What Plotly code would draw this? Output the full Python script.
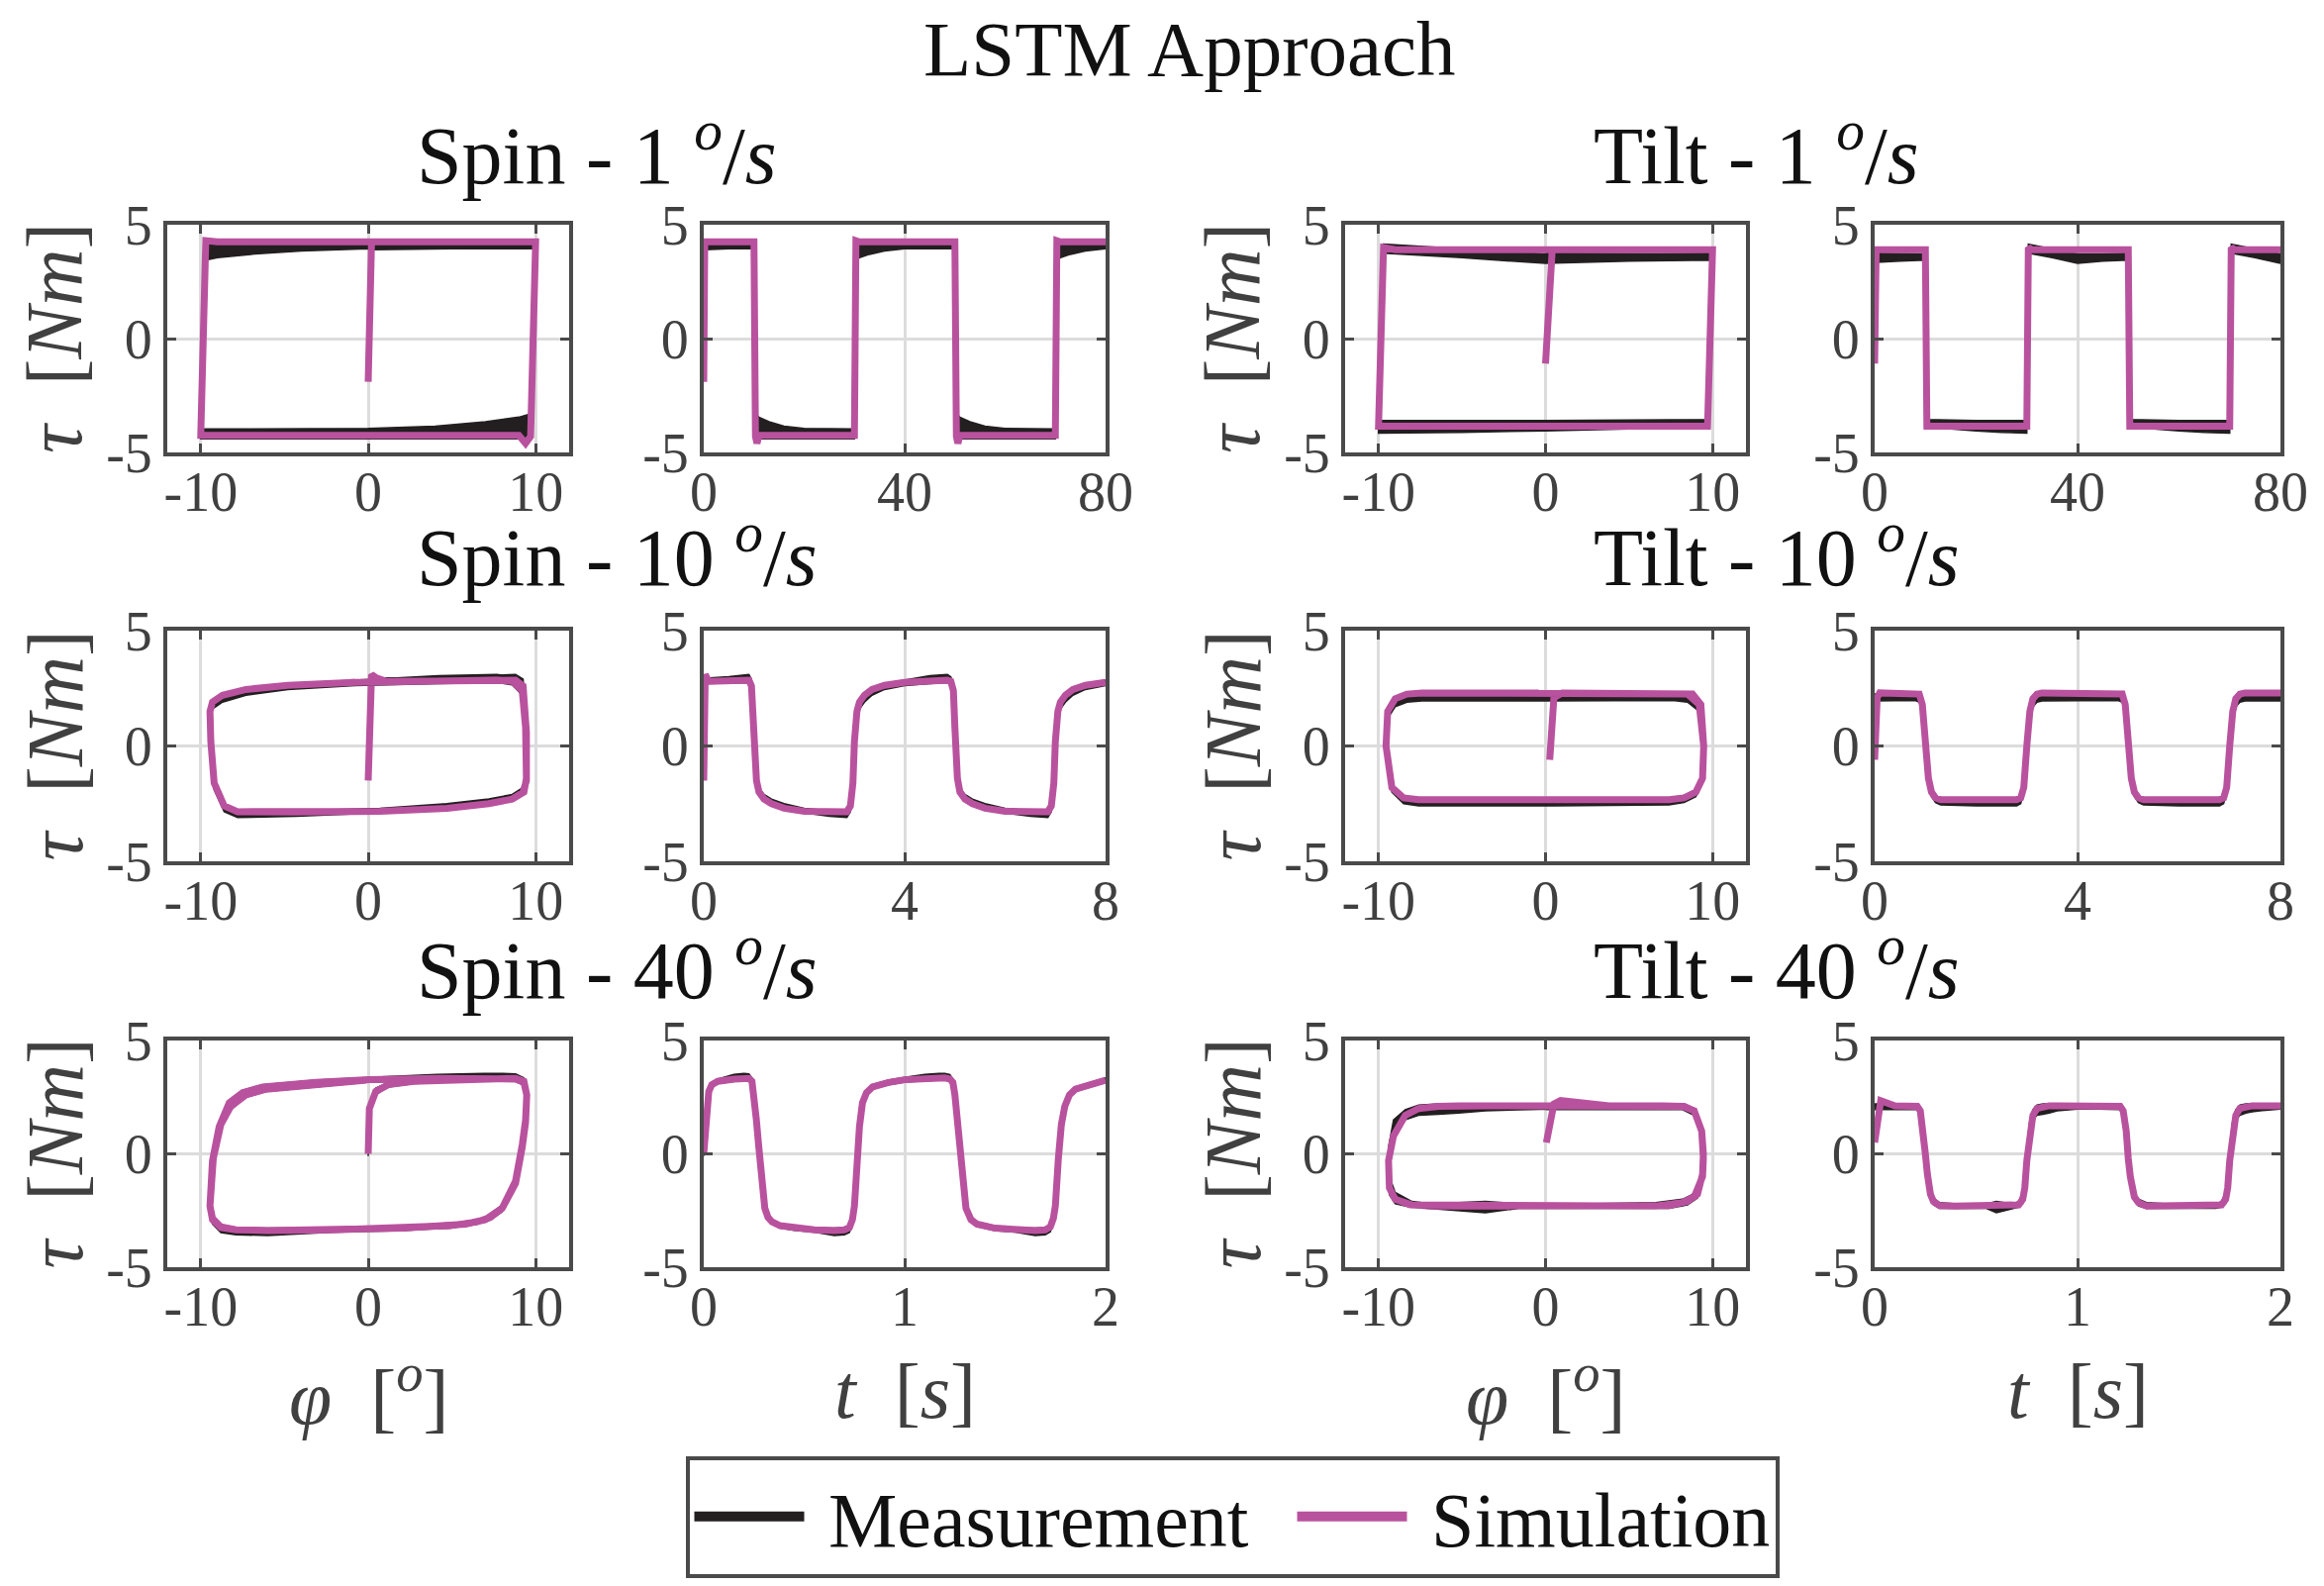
import plotly.graph_objects as go

W, H = 2348, 1602
MEAS_COLOR = '#231F20'
SIM_COLOR = '#B9529E'
AX_COLOR = '#4A4A4A'
GRID_COLOR = '#DCDCDC'
TXT_COLOR = '#404040'
FONT = 'Liberation Serif'

# ---------------- Spin 1 deg/s ----------------
spin1_t = [0, 0.2, 5, 9.9, 10.0, 10.3, 10.6, 11, 13, 16, 20, 25, 29.9, 30.0, 30.3, 31, 33, 36, 40, 45,
           49.9, 50.0, 50.3, 50.6, 51, 53, 56, 60, 65, 69.9, 70.0, 70.3, 71, 73, 76, 80]
spin1_phi = [0, 0.2, 5, 9.9, 10.0, 9.7, 9.4, 9.0, 7, 4, 0, -5, -9.9, -10.0, -9.7, -9, -7, -4, 0, 5,
             9.9, 10.0, 9.7, 9.4, 9.0, 7, 4, 0, -5, -9.9, -10.0, -9.7, -9, -7, -4, 0]
spin1_sim = [-1.9, 4.25, 4.25, 4.25, 4.25, -4.3, -4.6, -4.25, -4.25, -4.25, -4.25, -4.25, -4.25, -4.25,
             4.3, 4.25, 4.25, 4.25, 4.25, 4.25, 4.25, 4.25, -4.3, -4.6, -4.25, -4.25, -4.25, -4.25, -4.25,
             -4.25, -4.25, 4.3, 4.25, 4.25, 4.25, 4.25]
spin1_mlo = [3.9, 3.9, 3.95, 3.95, 3.95, -4.4, -4.45, -4.4, -4.4, -4.4, -4.4, -4.4, -4.4, -4.4,
             3.45, 3.55, 3.7, 3.85, 3.95, 3.95, 3.95, 3.95, -4.4, -4.45, -4.4, -4.4, -4.4, -4.4, -4.4,
             -4.4, -4.4, 3.45, 3.55, 3.7, 3.85, 3.95]
spin1_mhi = [4.1, 4.1, 4.1, 4.1, 4.1, -3.3, -3.35, -3.45, -3.65, -3.85, -3.95, -3.97, -3.97, -3.97,
             4.15, 4.15, 4.12, 4.1, 4.1, 4.1, 4.1, 4.1, -3.3, -3.35, -3.45, -3.65, -3.85, -3.95, -3.97,
             -3.97, -3.97, 4.15, 4.15, 4.12, 4.1, 4.1]

# ---------------- Spin 10 deg/s ----------------
spin10_t = [0, 0.03, 0.06, 0.12, 0.5, 0.9, 0.95, 1.0, 1.05, 1.1, 1.2, 1.35, 1.6, 2.0, 2.5, 2.85, 2.92,
            2.97, 3.0, 3.05, 3.1, 3.2, 3.35, 3.6, 4.0, 4.5, 4.85, 4.92, 4.97, 5.0, 5.05, 5.1, 5.2, 5.35,
            5.6, 6.0, 6.5, 6.85, 6.92, 6.97, 7.0, 7.05, 7.1, 7.2, 7.35, 7.6, 8.0]
spin10_phi = [0.0, 0.2, 0.5, 1.1, 4.9, 8.8, 9.25, 9.45, 9.45, 9.25, 8.6, 7.2, 4.7, 0.7, -4.3, -7.8, -8.6,
              -9.2, -9.4, -9.45, -9.3, -8.7, -7.3, -4.8, -0.8, 4.2, 7.7, 8.6, 9.2, 9.4, 9.45, 9.3, 8.6,
              7.2, 4.7, 0.7, -4.3, -7.8, -8.6, -9.2, -9.4, -9.45, -9.3, -8.7, -7.3, -4.8, -0.8]
spin10_sim = [-1.5, 3.1, 2.95, 2.8, 2.82, 2.85, 2.6, 0.6, -1.5, -2.0, -2.3, -2.5, -2.7, -2.83, -2.87,
              -2.85, -2.6, -1.6, 0.2, 1.5, 1.9, 2.2, 2.45, 2.63, 2.76, 2.83, 2.85, 2.8, 2.4, 0.8, -1.4,
              -2.0, -2.3, -2.5, -2.7, -2.83, -2.87, -2.85, -2.6, -1.6, 0.2, 1.5, 1.9, 2.2, 2.45, 2.63, 2.76]
spin10_mlo = [2.7, 2.7, 2.7, 2.7, 2.72, 2.75, 2.5, 0.4, -1.6, -2.1, -2.35, -2.55, -2.75, -2.9, -3.05,
              -3.1, -2.85, -1.9, 0.0, 1.2, 1.6, 1.9, 2.2, 2.45, 2.62, 2.7, 2.75, 2.65, 2.2, 0.6, -1.6,
              -2.1, -2.35, -2.55, -2.75, -2.9, -3.05, -3.1, -2.85, -1.9, 0.0, 1.2, 1.6, 1.9, 2.2, 2.45, 2.62]
spin10_mhi = [2.95, 2.95, 2.95, 2.95, 3.0, 3.1, 2.9, 0.9, -1.2, -1.8, -2.1, -2.3, -2.5, -2.7, -2.8,
              -2.8, -2.5, -1.4, 0.5, 1.6, 1.95, 2.25, 2.5, 2.7, 2.85, 3.05, 3.1, 3.0, 2.6, 1.1, -1.2,
              -1.8, -2.1, -2.3, -2.5, -2.7, -2.8, -2.8, -2.5, -1.4, 0.5, 1.6, 1.95, 2.25, 2.5, 2.7, 2.85]

# ---------------- Spin 40 deg/s ----------------
spin40_t = [0, 0.012, 0.025, 0.04, 0.07, 0.15, 0.2, 0.225, 0.24, 0.25, 0.262, 0.273, 0.288, 0.304, 0.32,
            0.34, 0.38, 0.45, 0.55, 0.65, 0.7, 0.725, 0.74, 0.75, 0.76, 0.775, 0.79, 0.81, 0.84, 0.92,
            1.0, 1.1, 1.17, 1.2, 1.225, 1.24, 1.25, 1.262, 1.275, 1.29, 1.305, 1.33, 1.36, 1.45, 1.55,
            1.65, 1.7, 1.725, 1.74, 1.75, 1.765, 1.78, 1.797, 1.82, 1.85, 1.92, 2.0]
spin40_phi = [0.0, 0.07, 0.45, 1.2, 2.7, 5.9, 7.9, 8.8, 9.3, 9.47, 9.4, 9.2, 8.8, 8.0, 7.3,
              6.5, 4.9, 2.0, -2.0, -6.0, -7.9, -8.8, -9.3, -9.45, -9.3, -8.9, -8.3, -7.5, -6.3, -3.1,
              0.1, 4.1, 6.9, 7.9, 8.8, 9.3, 9.47, 9.4, 9.2, 8.8, 8.0, 7.0, 5.8, 2.1, -2.0,
              -6.0, -7.9, -8.8, -9.3, -9.45, -9.25, -8.8, -8.2, -7.3, -6.1, -3.3, -0.1]
spin40_sim = [0.0, 2.0, 2.75, 3.05, 3.2, 3.3, 3.35, 3.33, 3.2, 2.6, 1.5, 0.4, -1.2, -2.4, -2.8,
              -3.0, -3.17, -3.27, -3.35, -3.38, -3.35, -3.25, -2.9, -2.3, -0.3, 1.2, 2.25, 2.7, 2.95, 3.15,
              3.27, 3.33, 3.35, 3.35, 3.3, 3.15, 2.6, 1.4, 0.3, -1.3, -2.4, -2.9, -3.1, -3.28, -3.35,
              -3.38, -3.35, -3.22, -2.85, -2.3, -0.2, 1.3, 2.1, 2.6, 2.85, 3.05, 3.25]
spin40_mlo = [-0.1, 1.8, 2.6, 2.95, 3.1, 3.2, 3.25, 3.23, 3.05, 2.4, 1.3, 0.2, -1.4, -2.55, -2.92,
              -3.1, -3.27, -3.37, -3.45, -3.6, -3.57, -3.47, -3.1, -2.5, -0.5, 1.0, 2.1, 2.6, 2.85, 3.05,
              3.17, 3.23, 3.25, 3.25, 3.2, 3.02, 2.4, 1.2, 0.1, -1.5, -2.55, -3.0, -3.2, -3.38, -3.45,
              -3.6, -3.57, -3.44, -3.05, -2.5, -0.4, 1.1, 1.95, 2.5, 2.75, 2.95, 3.15]
spin40_mhi = [0.1, 2.2, 2.9, 3.15, 3.3, 3.5, 3.55, 3.53, 3.35, 2.8, 1.7, 0.6, -1.0, -2.25, -2.7,
              -2.9, -3.07, -3.17, -3.25, -3.28, -3.25, -3.15, -2.75, -2.1, -0.1, 1.4, 2.35, 2.8, 3.05, 3.25,
              3.37, 3.5, 3.55, 3.55, 3.5, 3.3, 2.8, 1.6, 0.5, -1.1, -2.25, -2.8, -3.0, -3.18, -3.25,
              -3.28, -3.25, -3.12, -2.7, -2.1, 0.0, 1.5, 2.25, 2.7, 2.95, 3.15, 3.35]

# ---------------- Tilt 1 deg/s ----------------
tilt1_t = [0, 0.3, 5, 9.9, 10.0, 10.3, 11, 15, 20, 25, 29.9, 30.0, 30.3, 31, 35, 40, 45, 49.9, 50.0,
           50.3, 51, 55, 60, 65, 69.9, 70.0, 70.3, 71, 75, 80]
tilt1_phi = [0, 0.4, 5, 9.9, 10.0, 9.7, 9.0, 5, 0, -5, -9.9, -10.0, -9.7, -9, -5, 0, 5, 9.9, 10.0,
             9.7, 9, 5, 0, -5, -9.9, -10.0, -9.7, -9, -5, 0]
tilt1_sim = [-1.1, 3.9, 3.9, 3.9, 3.9, -3.85, -3.85, -3.85, -3.85, -3.85, -3.85, -3.85, 4.0, 3.9, 3.9,
             3.9, 3.9, 3.9, 3.9, -3.85, -3.85, -3.85, -3.85, -3.85, -3.85, -3.85, 4.0, 3.9, 3.9, 3.9]
tilt1_mlo = [3.35, 3.35, 3.4, 3.45, 3.45, -3.95, -3.95, -3.97, -4.05, -4.12, -4.15, -4.15, 3.75, 3.72,
             3.55, 3.3, 3.4, 3.45, 3.45, -3.95, -3.95, -3.97, -4.05, -4.12, -4.15, -4.15, 3.75, 3.72,
             3.55, 3.3]
tilt1_mhi = [3.75, 3.75, 3.72, 3.72, 3.72, -3.55, -3.55, -3.58, -3.6, -3.6, -3.6, -3.6, 4.15, 4.12,
             3.95, 3.72, 3.72, 3.75, 3.75, -3.55, -3.55, -3.58, -3.6, -3.6, -3.6, -3.6, 4.15, 4.12,
             3.95, 3.72]

# ---------------- Tilt 10 deg/s ----------------
tilt10_t = [0, 0.05, 0.1, 0.5, 0.8, 0.88, 0.94, 1.0, 1.06, 1.12, 1.2, 1.3, 2.0, 2.7, 2.8, 2.88, 2.94,
            3.0, 3.06, 3.12, 3.2, 3.3, 4.0, 4.7, 4.8, 4.88, 4.94, 5.0, 5.06, 5.12, 5.2, 5.3, 6.0, 6.7,
            6.8, 6.88, 6.94, 7.0, 7.06, 7.12, 7.2, 7.3, 8.0]
tilt10_phi = [0.25, 0.5, 1.0, 5.0, 8.0, 8.8, 9.3, 9.47, 9.4, 9.0, 8.3, 7.4, 0.5, -6.5, -7.6, -8.5, -9.2,
              -9.55, -9.45, -9.0, -8.3, -7.4, -0.4, 6.5, 7.6, 8.5, 9.2, 9.47, 9.4, 9.0, 8.3, 7.4, 0.5,
              -6.5, -7.6, -8.5, -9.2, -9.55, -9.45, -9.0, -8.3, -7.4, -0.4]
tilt10_sim = [-0.6, 2.1, 2.3, 2.3, 2.3, 2.25, 1.8, 0.0, -1.4, -2.0, -2.25, -2.33, -2.33, -2.33, -2.33,
              -2.25, -1.8, 0.0, 1.5, 2.05, 2.25, 2.3, 2.3, 2.3, 2.3, 2.25, 1.8, 0.0, -1.4, -2.0, -2.25,
              -2.33, -2.33, -2.33, -2.33, -2.25, -1.8, 0.0, 1.5, 2.05, 2.25, 2.3, 2.3]
tilt10_mlo = [1.95, 1.95, 1.95, 1.97, 1.97, 1.9, 1.5, -0.2, -1.6, -2.2, -2.45, -2.55, -2.6, -2.6, -2.6,
              -2.5, -2.0, -0.2, 1.2, 1.7, 1.9, 1.95, 1.97, 1.97, 1.97, 1.9, 1.5, -0.2, -1.6, -2.2, -2.45,
              -2.55, -2.6, -2.6, -2.6, -2.5, -2.0, -0.2, 1.2, 1.7, 1.9, 1.95, 1.95]
tilt10_mhi = [2.25, 2.25, 2.25, 2.28, 2.28, 2.25, 1.85, 0.1, -1.3, -1.9, -2.15, -2.25, -2.28, -2.28, -2.28,
              -2.2, -1.7, 0.1, 1.55, 2.05, 2.2, 2.25, 2.28, 2.28, 2.28, 2.25, 1.85, 0.1, -1.3, -1.9, -2.15,
              -2.25, -2.28, -2.28, -2.28, -2.2, -1.7, 0.1, 1.55, 2.05, 2.2, 2.25, 2.28]

# ---------------- Tilt 40 deg/s ----------------
tilt40_t = [0, 0.02, 0.03, 0.1, 0.18, 0.21, 0.225, 0.24, 0.25, 0.26, 0.275, 0.29, 0.32, 0.4, 0.55, 0.6,
            0.68, 0.71, 0.73, 0.74, 0.75, 0.765, 0.78, 0.8, 0.83, 0.86, 0.9, 1.0, 1.1, 1.18, 1.21, 1.225,
            1.24, 1.25, 1.26, 1.28, 1.3, 1.34, 1.45, 1.55, 1.6, 1.68, 1.71, 1.73, 1.74, 1.75, 1.765, 1.78,
            1.8, 1.83, 1.86, 1.9, 2.0]
tilt40_phi = [0.05, 0.5, 0.9, 3.8, 7.0, 8.2, 8.9, 9.35, 9.45, 9.4, 9.1, 8.5, 7.4, 4.3, -1.6, -3.6,
              -6.8, -8.0, -9.0, -9.35, -9.4, -9.1, -8.4, -7.6, -6.4, -5.2, -3.6, 0.3, 4.2, 7.2, 8.3, 8.9,
              9.35, 9.45, 9.4, 8.9, 8.2, 6.6, 2.2, -1.8, -3.8, -6.9, -8.1, -9.0, -9.35, -9.4, -9.1, -8.4,
              -7.6, -6.4, -5.2, -3.6, 0.3]
tilt40_sim = [0.5, 2.2, 2.35, 2.12, 2.12, 2.1, 1.9, 1.0, 0.0, -0.9, -1.78, -2.1, -2.28, -2.3, -2.3, -2.3,
              -2.3, -2.25, -2.0, -1.5, -0.3, 0.8, 1.7, 2.0, 2.1, 2.12, 2.12, 2.12, 2.12, 2.12, 2.1, 1.9,
              1.0, -0.2, -1.0, -1.9, -2.15, -2.3, -2.3, -2.3, -2.3, -2.3, -2.25, -2.0, -1.5, -0.3, 0.8, 1.7,
              2.0, 2.1, 2.12, 2.12, 2.12]
tilt40_mlo = [1.95, 1.95, 1.95, 1.98, 1.98, 1.95, 1.7, 0.8, -0.2, -1.1, -1.95, -2.25, -2.4, -2.4, -2.4, -2.6,
              -2.4, -2.35, -2.2, -1.8, -0.6, 0.6, 1.5, 1.7, 1.75, 1.8, 1.9, 1.98, 1.98, 1.98, 1.95, 1.7,
              0.8, -0.4, -1.2, -2.05, -2.3, -2.4, -2.4, -2.4, -2.4, -2.4, -2.35, -2.2, -1.8, -0.6, 0.6, 1.5,
              1.7, 1.8, 1.85, 1.9, 1.98]
tilt40_mhi = [2.2, 2.2, 2.2, 2.22, 2.22, 2.2, 2.0, 1.2, 0.2, -0.7, -1.6, -1.95, -2.15, -2.2, -2.2, -2.1,
              -2.2, -2.1, -1.7, -1.0, 0.3, 1.5, 1.95, 2.15, 2.2, 2.2, 2.22, 2.22, 2.22, 2.22, 2.2, 2.0,
              1.2, 0.0, -0.8, -1.75, -2.0, -2.15, -2.2, -2.2, -2.2, -2.2, -2.1, -1.7, -1.0, 0.3, 1.5, 1.95,
              2.15, 2.2, 2.2, 2.22, 2.22]

# tick labels
phi_ticks = [-10, 0, 10]
phi_ticktext = ['-10', '0', '10']
tau_ticks = [-5, 0, 5]
tau_ticktext = ['-5', '0', '5']
t_ticks_1 = [0, 40, 80]
t_ticks_10 = [0, 4, 8]
t_ticks_40 = [0, 1, 2]

panels = [
    dict(title='Spin', rate='1', row=0, side=0, t=spin1_t, phi=spin1_phi, sim=spin1_sim, lo=spin1_mlo, hi=spin1_mhi, tt=t_ticks_1),
    dict(title='Tilt', rate='1', row=0, side=1, t=tilt1_t, phi=tilt1_phi, sim=tilt1_sim, lo=tilt1_mlo, hi=tilt1_mhi, tt=t_ticks_1),
    dict(title='Spin', rate='10', row=1, side=0, t=spin10_t, phi=spin10_phi, sim=spin10_sim, lo=spin10_mlo, hi=spin10_mhi, tt=t_ticks_10),
    dict(title='Tilt', rate='10', row=1, side=1, t=tilt10_t, phi=tilt10_phi, sim=tilt10_sim, lo=tilt10_mlo, hi=tilt10_mhi, tt=t_ticks_10),
    dict(title='Spin', rate='40', row=2, side=0, t=spin40_t, phi=spin40_phi, sim=spin40_sim, lo=spin40_mlo, hi=spin40_mhi, tt=t_ticks_40),
    dict(title='Tilt', rate='40', row=2, side=1, t=tilt40_t, phi=tilt40_phi, sim=tilt40_sim, lo=tilt40_mlo, hi=tilt40_mhi, tt=t_ticks_40),
]

# layout geometry (pixels of the 2348x1602 canvas)
col_px = [(169, 575), (711, 1117), (1359, 1764), (1894, 2304)]
row_px = [(227, 457), (637, 870), (1051, 1280)]
title_left_px = [419, 1608]
title_y_px = [151, 558, 974]

def xdom(c):
    a, b = col_px[c]
    return [a / W, b / W]

def ydom(r):
    a, b = row_px[r]
    return [1 - b / H, 1 - a / H]

fig = go.Figure()
layout = {}
tickfont = dict(family=FONT, size=56, color=TXT_COLOR)

def axis_common():
    return dict(showgrid=True, gridcolor=GRID_COLOR, gridwidth=3, zeroline=False,
                showline=True, linecolor=AX_COLOR, linewidth=4, mirror='ticks',
                ticks='inside', ticklen=9, tickwidth=3, tickcolor=AX_COLOR,
                tickfont=tickfont, fixedrange=True, automargin=False)

for p in panels:
    for kind in ('phi', 't'):
        c = p['side'] * 2 + (0 if kind == 'phi' else 1)
        k = p['row'] * 4 + c + 1
        xs = p['phi'] if kind == 'phi' else p['t']
        xref = 'x' if k == 1 else f'x{k}'
        yref = 'y' if k == 1 else f'y{k}'
        fig.add_trace(go.Scatter(x=xs, y=p['lo'], xaxis=xref, yaxis=yref, mode='lines',
                                 line=dict(color=MEAS_COLOR, width=1.5), showlegend=False,
                                 hoverinfo='skip'))
        fig.add_trace(go.Scatter(x=xs, y=p['hi'], xaxis=xref, yaxis=yref, mode='lines',
                                 line=dict(color=MEAS_COLOR, width=1.5), fill='tonexty',
                                 fillcolor=MEAS_COLOR, showlegend=False, hoverinfo='skip'))
        fig.add_trace(go.Scatter(x=xs, y=p['sim'], xaxis=xref, yaxis=yref, mode='lines',
                                 line=dict(color=SIM_COLOR, width=7), showlegend=False,
                                 hoverinfo='skip'))
        xa = axis_common()
        xa.update(domain=xdom(c), anchor=yref, ticklabelstandoff=-12)
        if kind == 'phi':
            xa.update(range=[-12, 12], tickvals=phi_ticks, ticktext=phi_ticktext)
        else:
            tt = p['tt']
            xa.update(range=[tt[0], tt[-1]], tickvals=tt, ticktext=[str(v) for v in tt])
        ya = axis_common()
        ya.update(domain=ydom(p['row']), anchor=xref, range=[-5, 5], tickvals=tau_ticks,
                  ticktext=tau_ticktext)
        layout['xaxis' if k == 1 else f'xaxis{k}'] = xa
        layout['yaxis' if k == 1 else f'yaxis{k}'] = ya

# legend entries
fig.add_trace(go.Scatter(x=[None], y=[None], mode='lines', name='\u00a0Measurement\u00a0\u00a0',
                         line=dict(color=MEAS_COLOR, width=10)))
fig.add_trace(go.Scatter(x=[None], y=[None], mode='lines', name='\u00a0Simulation',
                         line=dict(color=SIM_COLOR, width=10)))

annotations = []
annotations.append(dict(text='LSTM Approach', x=1202 / W, y=1 - 50 / H, xref='paper', yref='paper',
                        xanchor='center', yanchor='middle', showarrow=False,
                        font=dict(family=FONT, size=79, color='#111111')))
for p in panels:
    annotations.append(dict(text=f"{p['title']} - {p['rate']} <sup><i>o</i></sup>/<i>s</i>",
                            x=title_left_px[p['side']] / W, y=1 - title_y_px[p['row']] / H,
                            xref='paper', yref='paper', xanchor='left', yanchor='middle',
                            showarrow=False, font=dict(family=FONT, size=82, color='#111111')))
# y-axis labels
for c in (0, 2):
    for r in range(3):
        yc = (row_px[r][0] + row_px[r][1]) / 2
        annotations.append(dict(text='<i>τ</i>  [<i>Nm</i>]', x=(col_px[c][0] - 114) / W,
                                y=1 - yc / H, xref='paper', yref='paper', xanchor='center',
                                yanchor='middle', textangle=-90, showarrow=False,
                                font=dict(family=FONT, size=80, color=TXT_COLOR)))
# x-axis labels
for c in range(4):
    xc = (col_px[c][0] + col_px[c][1]) / 2
    txt = '<i>φ</i>  [<sup><i>o</i></sup>]' if c % 2 == 0 else '<i>t</i>  [<i>s</i>]'
    annotations.append(dict(text=txt, x=xc / W, y=1 - 1405 / H, xref='paper', yref='paper',
                            xanchor='center', yanchor='middle', showarrow=False,
                            font=dict(family=FONT, size=78, color=TXT_COLOR)))

fig.update_layout(
    width=W, height=H, autosize=False,
    margin=dict(l=0, r=0, t=0, b=0, pad=0, autoexpand=False),
    paper_bgcolor='white', plot_bgcolor='white',
    showlegend=True,
    legend=dict(orientation='h', x=1245 / W, y=1 - 1532 / H, xanchor='center', yanchor='middle',
                bordercolor=AX_COLOR, borderwidth=4, bgcolor='white', traceorder='normal',
                font=dict(family=FONT, size=78, color='#111111'), itemwidth=111),
    annotations=annotations,
    **layout,
)

fig.write_html("out.html", config={'displayModeBar': False},
               post_script="document.body.style.margin='0';document.body.style.overflow='hidden';")
